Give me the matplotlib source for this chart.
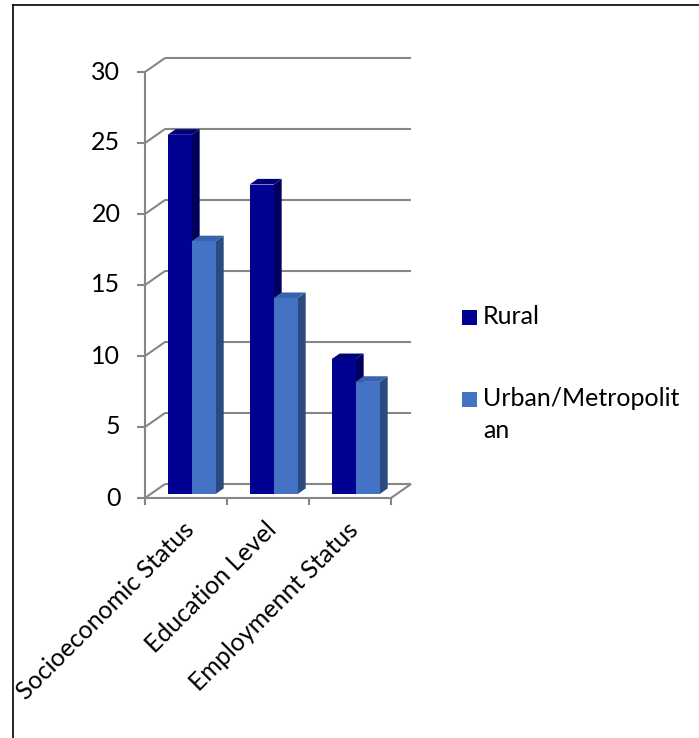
import matplotlib.pyplot as plt
from matplotlib.patches import Polygon, Rectangle
from matplotlib.lines import Line2D

categories = ['Socioeconomic Status', 'Education Level', 'Employmennt Status']
series_names = ['Rural', 'Urban/Metropolit\nan']
rural = [25.3, 21.8, 9.5]
urban = [17.8, 13.8, 7.9]
y_ticks = [0, 5, 10, 15, 20, 25, 30]

front_colors = ['#000091', '#4472C4']
side_colors = ['#00005C', '#2B4A80']
top_colors = ['#000078', '#3A63AE']
grid_c = '#868686'

# 3d look: offset from the front plane to the back wall, in data units
DX, DY = 0.245, 0.99
BAR_W = 0.293
GAP = (1 - 2 * BAR_W) / 2
F0, F1 = 0.28, 0.68

plt.rcParams['font.family'] = ['Lato', 'DejaVu Sans']
FS = 18

W, H = 699, 738
fig = plt.figure(figsize=(W / 100, H / 100), dpi=100)
ax = fig.add_axes([145 / W, 240 / H, 246 / W, 426 / H])
n = len(categories)
ax.set_xlim(0, n)
ax.set_ylim(0, 30)
ax.axis('off')

kw = dict(color=grid_c, lw=1.5, clip_on=False, solid_capstyle='butt')
for v in y_ticks:
    ax.plot([DX, n + DX], [v + DY, v + DY], zorder=1, **kw)
    ax.plot([0, DX], [v, v + DY], zorder=1, **kw)
    ax.plot([-0.098, 0], [v, v], zorder=1, **kw)
    ax.text(-0.3, v, str(v), ha='right', va='center', fontsize=FS)

# left wall edge, floor
ax.plot([0, 0], [0, 30], zorder=1, **kw)
ax.plot([0, n], [0, 0], zorder=4, **kw)
ax.plot([n, n + DX], [0, DY], zorder=4, **kw)
for i in range(n + 1):
    ax.plot([i, i], [0, -0.5], zorder=4, **kw)

# bars
sx, sy = F0 * DX, F0 * DY
ddx, ddy = (F1 - F0) * DX, (F1 - F0) * DY
for i in range(n):
    for j, vals in enumerate([rural, urban]):
        v = vals[i]
        x0 = i + GAP + j * BAR_W + sx
        x1 = x0 + BAR_W
        side = [(x1, sy), (x1 + ddx, sy + ddy), (x1 + ddx, v + sy + ddy), (x1, v + sy)]
        top = [(x0, v + sy), (x1, v + sy), (x1 + ddx, v + sy + ddy), (x0 + ddx, v + sy + ddy)]
        ax.add_patch(Polygon(side, closed=True, fc=side_colors[j], ec='none', zorder=2, clip_on=False))
        ax.add_patch(Polygon(top, closed=True, fc=top_colors[j], ec='none', zorder=2, clip_on=False))
        ax.bar(x0, v, width=BAR_W, bottom=sy, align='edge', color=front_colors[j],
               zorder=2, clip_on=False)

for i, cat in enumerate(categories):
    ax.text(i + 0.46, -1.4, cat, rotation=45, ha='right', va='top',
            rotation_mode='anchor', fontsize=FS)

# legend, drawn by hand so the key sits on the first line of a wrapped label
key_top = [310, 392]
for name, c, yt in zip(series_names, front_colors, key_top):
    fig.add_artist(Rectangle((462 / W, 1 - (yt + 15) / H), 15 / W, 15 / H,
                             transform=fig.transFigure, fc=c, ec='none'))
    fig.text(483 / W, 1 - (yt - 5) / H, name, ha='left', va='top',
             fontsize=FS, linespacing=1.5)

# outer frame (left and top only are visible)
fig.add_artist(Line2D([12.5 / W, 12.5 / W], [0, 1 - 5 / H], color='black', lw=1.2))
fig.add_artist(Line2D([12.5 / W, 1], [1 - 5 / H, 1 - 5 / H], color='black', lw=1.2))

fig.savefig('out.png', dpi=100)
